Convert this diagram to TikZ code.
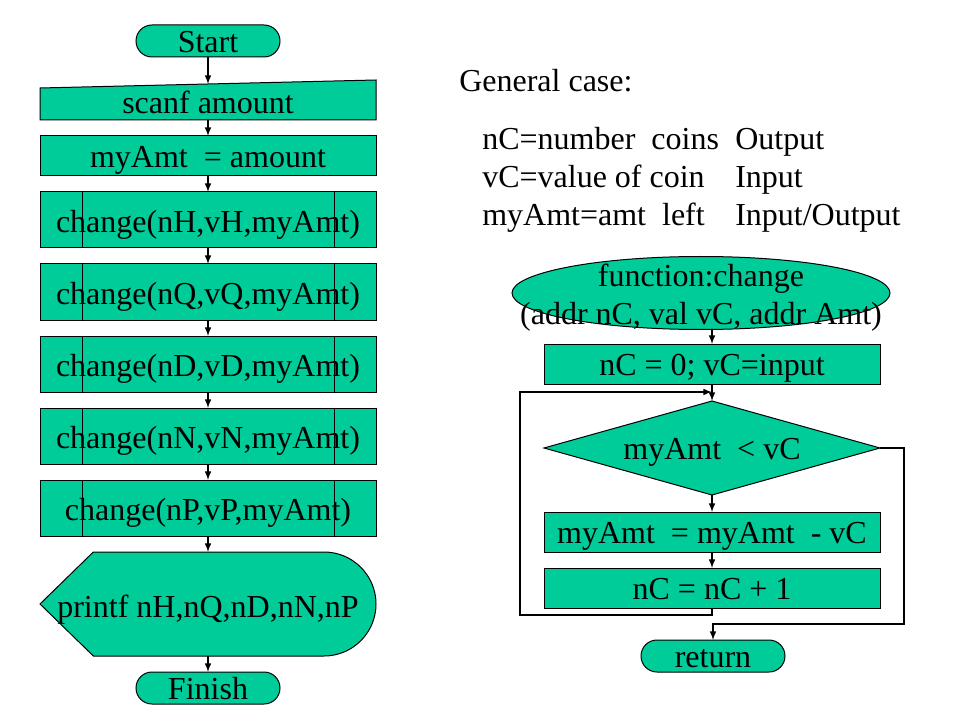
\documentclass[tikz,border=0pt]{standalone}
\usepackage{fontspec}
\setmainfont{Liberation Serif}
\usetikzlibrary{arrows,chains,scopes,positioning,shapes.geometric,shapes.misc,backgrounds}
\definecolor{coin}{RGB}{0,204,153}

\begin{document}
\begin{tikzpicture}[x=0.75pt,y=-0.75pt,font=\fontsize{24}{29}\selectfont,
  part/.style={draw,line width=0.75pt,fill=coin,inner sep=0pt,outer sep=0pt,text height=17pt,text depth=0pt},
  box/.style={part,minimum width=252pt,minimum height=30pt},
  inbox/.style={box,draw=none,fill=none,text height=21pt},
  call/.style={box,minimum height=42pt,text height=19pt},
  outbox/.style={box,draw=none,fill=none,minimum height=78pt,text height=19.5pt},
  term/.style={part,rounded rectangle,minimum width=108pt,minimum height=24pt},
  func/.style={part,ellipse,minimum width=283.5pt,minimum height=54.75pt},
  test/.style={part,diamond,minimum width=252pt,minimum height=70.5pt,shape aspect=3.5},
  txt/.style={anchor=base west,inner sep=0pt},
  flow/.style={-latex,line width=1.2pt}]
  \useasboundingbox (0,0) rectangle (960,720);

  % main program
  \node[term] (start) at (208,41) {Start};
  {[start chain=going below,node distance=12pt,every on chain/.style=join,every join/.style=flow]
     \node[on chain,inbox] (scan) at (208,100) {scanf amount};
     \node[on chain,box] (amt) {myAmt~ = amount};
     \node[on chain,call] (chH) {change(nH,vH,myAmt)};
     \node[on chain,call] (chQ) {change(nQ,vQ,myAmt)};
     \node[on chain,call] (chD) {change(nD,vD,myAmt)};
     \node[on chain,call] (chN) {change(nN,vN,myAmt)};
     \node[on chain,call] (chP) {change(nP,vP,myAmt)};
     \node[on chain,outbox] (outp) {printf nH,nQ,nD,nN,nP};
     \node[on chain,term] (fin) {Finish};
  }
  \draw[flow] (start) -- ([yshift=-3pt]scan.north);
  \foreach \c in {chH,chQ,chD,chN,chP}
    \draw[line width=0.75pt] ([xshift=31.5pt]\c.north west) -- ([xshift=31.5pt]\c.south west)
      ([xshift=-31.5pt]\c.north east) -- ([xshift=-31.5pt]\c.south east);
  \begin{scope}[on background layer]
    \filldraw[fill=coin,line width=0.75pt] (scan.south west) -- ([yshift=-6pt]scan.north west)
      -- (scan.north east) -- (scan.south east) -- cycle;
    \filldraw[fill=coin,line width=0.75pt] (outp.west) -- ([xshift=40pt]outp.north west)
      -- ([xshift=-39pt]outp.north east) arc[start angle=90,end angle=-90,radius=39pt]
      -- ([xshift=40pt]outp.south west) -- cycle;
  \end{scope}

  % parameters
  \node[txt] (gen) at (459,92) {General case:};
  \node[txt] (nc) at (482,150) {nC=number~ coins};
  \node[txt] (vc) at (482,188) {vC=value of coin};
  \node[txt] (ma) at (482,226) {myAmt=amt~ left};
  \node[txt] (ncio) at (735,150) {Output};
  \node[txt] (vcio) at (735,188) {Input};
  \node[txt] (maio) at (735,226) {Input/Output};

  % function
  \node[func] (fn) at (701,293) {};
  \node[align=center,inner sep=0pt] (fntext) at ([yshift=-3.5pt]fn.center) {function:change\\(addr nC, val vC, addr Amt)};
  \node[box] (init) at (712,364) {nC = 0; vC=input};
  \node[test] (cmp) at (712,448) {myAmt~ < vC};
  \node[box] (sub) at (712,532) {myAmt~ = myAmt~ - vC};
  \node[box] (inc) at (712,588) {nC = nC + 1};
  \node[term] (ret) at (713,656) {return};
  \coordinate (backL) at (520,392);
  \coordinate (exitR) at (904,624);

  \draw[flow] (fn.south -| init.north) -- (init.north);
  \draw[flow] (init) -- (cmp);
  \draw[flow] (cmp) -- (sub);
  \draw[flow] (sub) -- (inc);
  \draw[flow] (inc.south) -- ++(0,7) -| (backL) -- (backL -| cmp.north);
  \draw[flow] (cmp.east) -| (exitR) -- (exitR -| ret.north) -- (ret.north);
\end{tikzpicture}
\end{document}
